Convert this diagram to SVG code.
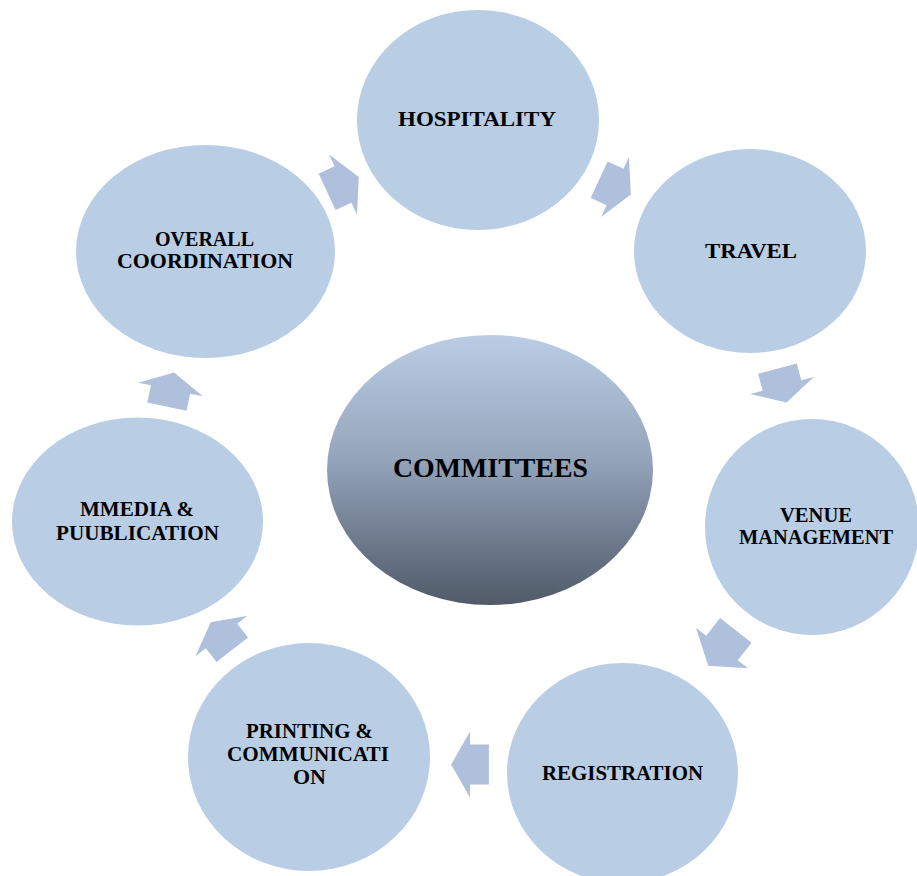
<svg xmlns="http://www.w3.org/2000/svg" xmlns:xlink="http://www.w3.org/1999/xlink" width="917" height="876" viewBox="0 0 917 876">
  <style>
    .node { fill: #b9cde5; }
    .arrow { fill: #afc0dc; }
    .lbl { font-family: "Liberation Serif", "Times New Roman", serif; font-weight: bold; font-size: 21px; fill: #000; text-anchor: middle; }
    .center { font-size: 28px; }
  </style>
  <defs>
    <polygon id="arr" points="-17.5,-20 0,-20 0,-33 17.5,0 0,33 0,20 -17.5,20"/>
    <linearGradient id="cg" x1="0" y1="0" x2="0" y2="1">
      <stop offset="0" stop-color="#bacde5"/>
      <stop offset="0.45" stop-color="#95a5bc"/>
      <stop offset="1" stop-color="#505a68"/>
    </linearGradient>
  </defs>
  <rect width="917" height="876" fill="#ffffff"/>

  <g id="connectors">
    <use xlink:href="#arr" class="arrow" transform="translate(615,187) rotate(25)"/>
    <use xlink:href="#arr" class="arrow" transform="translate(782,385.5) rotate(75)"/>
    <use xlink:href="#arr" class="arrow" transform="translate(722,648) rotate(128) scale(1.28,1)"/>
    <use xlink:href="#arr" class="arrow" transform="translate(470,764.5) rotate(180) scale(1.08,1)"/>
    <use xlink:href="#arr" class="arrow" transform="translate(221.5,636) rotate(-128)"/>
    <use xlink:href="#arr" class="arrow" transform="translate(170.5,389.5) rotate(-78)"/>
    <use xlink:href="#arr" class="arrow" transform="translate(343,184.5) rotate(-25)"/>
  </g>

  <g id="committees">
    <ellipse cx="490" cy="470" rx="163" ry="135" fill="url(#cg)"/>
    <text class="lbl center" x="490.5" y="477" textLength="195" lengthAdjust="spacingAndGlyphs">COMMITTEES</text>
  </g>

  <g id="hospitality">
    <ellipse class="node" cx="478" cy="120" rx="121" ry="110"/>
    <text class="lbl" x="477" y="126" textLength="158" lengthAdjust="spacingAndGlyphs">HOSPITALITY</text>
  </g>

  <g id="travel">
    <ellipse class="node" cx="750" cy="251" rx="116" ry="102"/>
    <text class="lbl" x="751" y="258" textLength="92" lengthAdjust="spacingAndGlyphs">TRAVEL</text>
  </g>

  <g id="venue-management">
    <ellipse class="node" cx="812" cy="527" rx="107" ry="108"/>
    <text class="lbl" x="816" y="522" textLength="72" lengthAdjust="spacingAndGlyphs">VENUE</text>
    <text class="lbl" x="816" y="544" textLength="154" lengthAdjust="spacingAndGlyphs">MANAGEMENT</text>
  </g>

  <g id="registration">
    <ellipse class="node" cx="622.5" cy="773" rx="115.5" ry="110"/>
    <text class="lbl" x="622.5" y="780" textLength="161" lengthAdjust="spacingAndGlyphs">REGISTRATION</text>
  </g>

  <g id="printing-communication">
    <ellipse class="node" cx="309" cy="757" rx="121" ry="114"/>
    <text class="lbl" x="309.5" y="738" textLength="127" lengthAdjust="spacingAndGlyphs">PRINTING &amp;</text>
    <text class="lbl" x="308" y="761" textLength="162" lengthAdjust="spacingAndGlyphs">COMMUNICATI</text>
    <text class="lbl" x="309.5" y="784" textLength="33" lengthAdjust="spacingAndGlyphs">ON</text>
  </g>

  <g id="media-publication">
    <ellipse class="node" cx="137.5" cy="521.5" rx="125.5" ry="104"/>
    <text class="lbl" x="137" y="516" textLength="114" lengthAdjust="spacingAndGlyphs">MMEDIA &amp;</text>
    <text class="lbl" x="137.5" y="540" textLength="163" lengthAdjust="spacingAndGlyphs">PUUBLICATION</text>
  </g>

  <g id="overall-coordination">
    <ellipse class="node" cx="205.5" cy="251.5" rx="129.5" ry="106.5"/>
    <text class="lbl" x="204.5" y="246" textLength="99" lengthAdjust="spacingAndGlyphs">OVERALL</text>
    <text class="lbl" x="205" y="268" textLength="176" lengthAdjust="spacingAndGlyphs">COORDINATION</text>
  </g>
</svg>
